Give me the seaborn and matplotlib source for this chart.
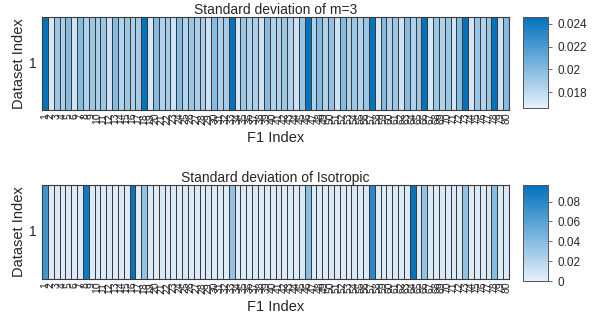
import numpy as np
import pandas as pd
import matplotlib
matplotlib.use("Agg")
import matplotlib.pyplot as plt
import seaborn as sns
from matplotlib.colors import LinearSegmentedColormap

sns.set_theme(style="white")
plt.rcParams['font.family'] = ['Liberation Sans', 'DejaVu Sans']

f1_index = [str(i) for i in range(1, 81)]
dataset_index = ["1"]

std_m3 = [
    0.0245, 0.0172, 0.0192, 0.0187, 0.0200, 0.0175, 0.0200, 0.0185, 0.0192, 0.0187,
    0.0192, 0.0175, 0.0200, 0.0185, 0.0192, 0.0187, 0.0189, 0.0245, 0.0172, 0.0200,
    0.0185, 0.0189, 0.0175, 0.0200, 0.0185, 0.0192, 0.0187, 0.0187, 0.0175, 0.0200,
    0.0187, 0.0189, 0.0245, 0.0172, 0.0192, 0.0185, 0.0187, 0.0175, 0.0200, 0.0185,
    0.0185, 0.0192, 0.0185, 0.0175, 0.0192, 0.0245, 0.0185, 0.0200, 0.0185, 0.0195,
    0.0175, 0.0200, 0.0185, 0.0192, 0.0185, 0.0192, 0.0245, 0.0172, 0.0200, 0.0185,
    0.0192, 0.0175, 0.0200, 0.0185, 0.0192, 0.0245, 0.0172, 0.0192, 0.0185, 0.0192,
    0.0175, 0.0200, 0.0245, 0.0172, 0.0192, 0.0185, 0.0192, 0.0245, 0.0175, 0.0200,
]

std_iso = [
    0.070, 0.004, 0.005, 0.004, 0.006, 0.004, 0.005, 0.090, 0.004, 0.005,
    0.004, 0.006, 0.004, 0.005, 0.004, 0.095, 0.004, 0.035, 0.005, 0.004,
    0.006, 0.004, 0.005, 0.004, 0.006, 0.004, 0.005, 0.004, 0.006, 0.004,
    0.005, 0.004, 0.035, 0.004, 0.005, 0.004, 0.006, 0.004, 0.005, 0.004,
    0.006, 0.004, 0.005, 0.004, 0.006, 0.040, 0.004, 0.005, 0.004, 0.006,
    0.004, 0.005, 0.004, 0.006, 0.004, 0.005, 0.080, 0.004, 0.005, 0.004,
    0.006, 0.004, 0.005, 0.095, 0.004, 0.035, 0.005, 0.004, 0.006, 0.004,
    0.005, 0.004, 0.035, 0.004, 0.005, 0.004, 0.006, 0.040, 0.004, 0.005,
]

titles = ["Standard deviation of m=3", "Standard deviation of Isotropic"]
cb_ticks = [[0.018, 0.02, 0.022, 0.024], [0, 0.02, 0.04, 0.06, 0.08]]
cb_labels = [["0.018", "0.02", "0.022", "0.024"], ["0", "0.02", "0.04", "0.06", "0.08"]]
vranges = [(0.0166, 0.0246), (0.0, 0.0968)]

cmap = LinearSegmentedColormap.from_list("mblue", ["#E6F0FA", "#0072BD"])

W, H = 611, 323
fig = plt.figure(figsize=(W / 100, H / 100), dpi=100)

def fr(x0, y0, x1, y1):
    return [x0 / W, 1 - y1 / H, (x1 - x0) / W, (y1 - y0) / H]

axes_boxes = [fr(42, 17, 509, 110), fr(42, 185, 509, 279)]
cb_boxes = [fr(523, 17, 548, 108), fr(523, 185, 548, 281)]

for data, title, ticks, tlabels, (vmin, vmax), abox, cbox in zip(
        [std_m3, std_iso], titles, cb_ticks, cb_labels, vranges, axes_boxes, cb_boxes):
    ax = fig.add_axes(abox)
    cax = fig.add_axes(cbox)
    df = pd.DataFrame([data], index=dataset_index, columns=f1_index)
    sns.heatmap(df, ax=ax, cbar_ax=cax, cmap=cmap, vmin=vmin, vmax=vmax,
                linewidths=0.6, linecolor="#3A3A3A",
                cbar_kws={"ticks": ticks})
    ax.set_title(title, fontsize=10, color="#262626", pad=2)
    ax.set_xlabel("F1 Index", fontsize=10.5, color="#262626", labelpad=5)
    ax.set_ylabel("Dataset Index", fontsize=10.5, color="#262626", labelpad=2)
    ax.set_xticks(np.arange(80) + 0.5)
    ax.set_xticklabels(f1_index, rotation=90, fontsize=7.5, color="#262626")
    ax.set_yticklabels(dataset_index, rotation=0, fontsize=10, color="#262626")
    ax.tick_params(axis="x", length=0, pad=2)
    ax.tick_params(axis="y", length=0, pad=4)
    for s in ax.spines.values():
        s.set_visible(True)
        s.set_color("#3A3A3A")
        s.set_linewidth(0.8)
    cax.set_yticklabels(tlabels)
    cax.tick_params(labelsize=8.5, length=3, width=0.6, color="#555555", labelcolor="#262626")
    for s in cax.spines.values():
        s.set_visible(True)
        s.set_color("#555555")
        s.set_linewidth(0.6)
    cax.patch.set_visible(False)

fig.savefig("out.png", dpi=100, facecolor="white")
